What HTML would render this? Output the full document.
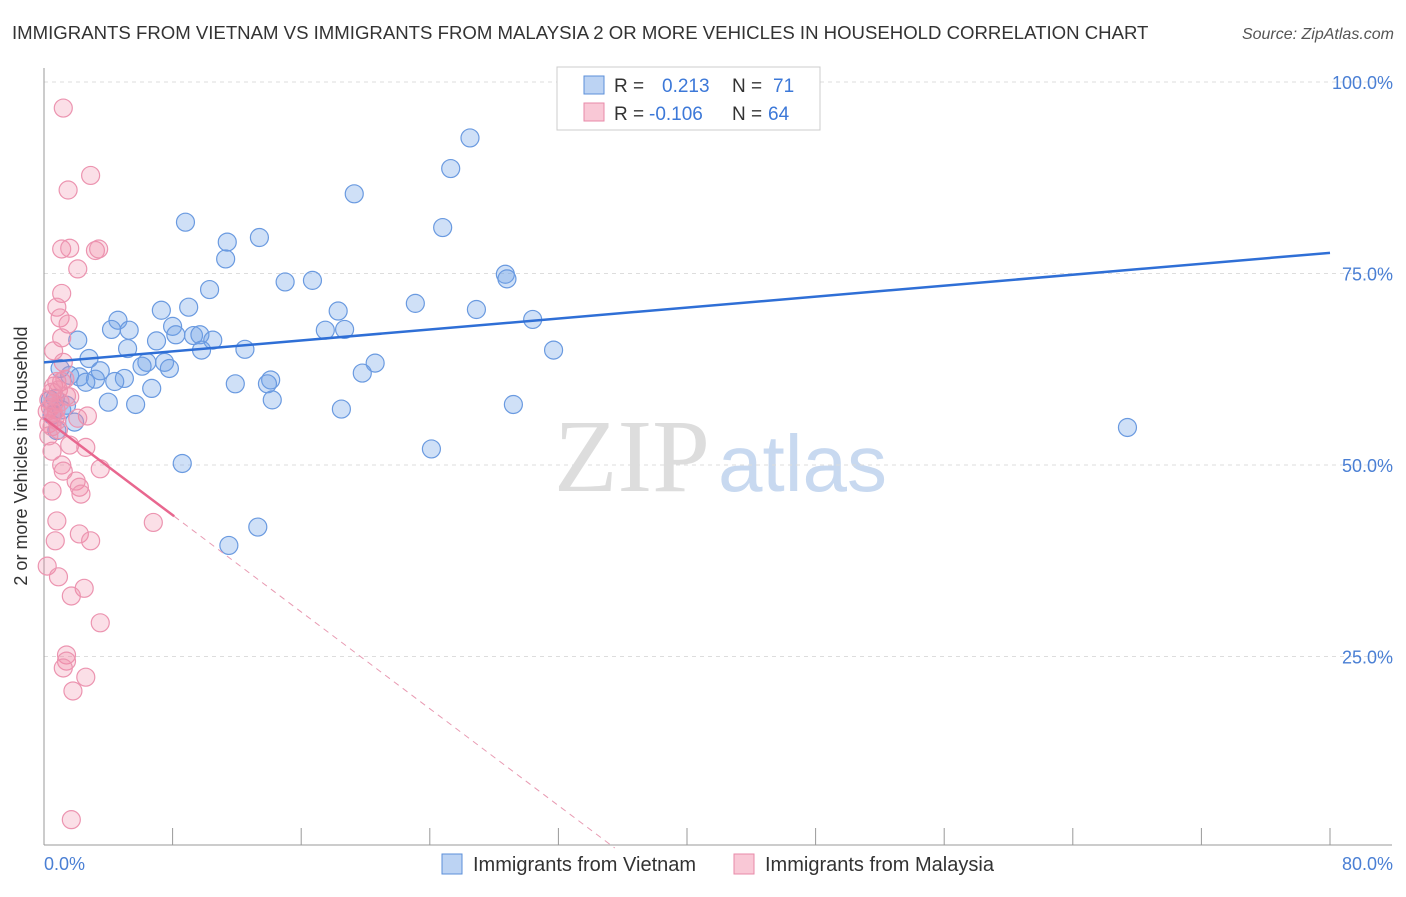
<!DOCTYPE html>
<html><head><meta charset="utf-8"><style>
body{margin:0;background:#fff;font-family:"Liberation Sans",sans-serif;}
svg text{font-family:"Liberation Sans",sans-serif;}
</style></head><body>
<svg width="1406" height="892" viewBox="0 0 1406 892" id="chart">
<text x="12" y="39" font-size="18.6" fill="#333">IMMIGRANTS FROM VIETNAM VS IMMIGRANTS FROM MALAYSIA 2 OR MORE VEHICLES IN HOUSEHOLD CORRELATION CHART</text>
<text x="1394" y="39" font-size="16" fill="#555" font-style="italic" text-anchor="end">Source: ZipAtlas.com</text>
<g>
<text x="554" y="491" font-size="104" fill="#ddd" font-family="Liberation Serif" style="font-family:'Liberation Serif',serif">ZIP</text>
<text x="718" y="491" font-size="80" fill="#c8d9f0">atlas</text>
</g>
<g id="grid"></g>
<line x1="44" y1="68" x2="44" y2="845" stroke="#999"/>
<line x1="44" y1="845" x2="1392" y2="845" stroke="#999"/>
<text x="27" y="456" font-size="18" fill="#333" text-anchor="middle" transform="rotate(-90 27 456)">2 or more Vehicles in Household</text>
<text x="44" y="870" font-size="18" fill="#4a7fd4">0.0%</text>
<text x="1393" y="870" font-size="18" fill="#4a7fd4" text-anchor="end">80.0%</text>
<g id="pts"></g>
<g>
<rect x="557" y="67" width="263" height="63" fill="#fff" stroke="#ccc"/>
<rect x="584" y="76" width="20" height="18" fill="#bcd3f3" stroke="#5b8fd9"/>
<rect x="584" y="103" width="20" height="18" fill="#f9c8d6" stroke="#e88aa8"/>
<text x="614" y="92" font-size="19" fill="#333">R = </text><text x="662" y="92" font-size="19" fill="#3c78d8">0.213</text>
<text x="732" y="92" font-size="19" fill="#333">N = </text><text x="773" y="92" font-size="19" fill="#3c78d8">71</text>
<text x="614" y="120" font-size="19" fill="#333">R = </text><text x="649" y="120" font-size="19" fill="#3c78d8">-0.106</text>
<text x="732" y="120" font-size="19" fill="#333">N = </text><text x="768" y="120" font-size="19" fill="#3c78d8">64</text>
</g>
<g>
<rect x="442" y="854" width="20" height="20" fill="#bcd3f3" stroke="#5b8fd9"/>
<text x="473" y="871" font-size="20" fill="#333">Immigrants from Vietnam</text>
<rect x="734" y="854" width="20" height="20" fill="#f9c8d6" stroke="#e88aa8"/>
<text x="765" y="871" font-size="20" fill="#333">Immigrants from Malaysia</text>
</g>
</svg>
<script>
const yTicks=[25,50,75,100];
const yTickLabels=["25.0%","50.0%","75.0%","100.0%"];
const xTicks=[8,16,24,32,40,48,56,64,72,80];
const blueX=[26.5,25.3,19.3,8.8,24.8,13.4,11.4,11.3,15.0,16.7,28.7,28.8,10.3,23.1,26.9,18.3,7.3,9.0,4.6,30.4,8.0,4.2,5.3,17.5,18.7,8.2,9.3,9.7,10.5,2.1,7.0,5.2,9.8,12.5,31.7,2.8,6.4,7.5,6.1,20.6,7.8,1.0,3.5,1.6,19.8,2.2,3.2,5.0,4.4,14.1,2.6,11.9,13.9,6.7,4.0,5.7,14.2,29.2,18.5,0.7,1.1,1.9,67.4,24.1,8.6,13.3,11.5,0.4,0.5,1.4,0.8];
const blueY=[92.7,88.7,85.4,81.7,81.0,79.7,79.1,76.9,73.9,74.1,74.9,74.3,72.9,71.1,70.3,70.1,70.2,70.6,68.9,69.0,68.1,67.7,67.6,67.6,67.7,67.0,66.9,67.0,66.3,66.3,66.2,65.2,65.0,65.1,65.0,63.9,63.4,63.4,62.9,63.3,62.6,62.6,62.3,61.7,62.0,61.5,61.2,61.3,60.9,61.1,60.8,60.6,60.6,60.0,58.2,57.9,58.5,57.9,57.3,58.7,57.2,55.6,54.9,52.1,50.2,41.9,39.5,58.5,56.5,57.8,54.5];
const pinkX=[1.2,2.9,1.5,1.1,1.6,3.2,3.4,2.1,1.1,0.8,1.0,1.5,1.1,0.6,1.2,0.8,0.6,1.1,0.5,1.6,0.3,0.6,0.75,0.7,0.3,0.9,2.7,2.1,1.6,2.6,0.5,1.1,1.2,3.5,2.0,2.2,2.3,0.5,0.8,6.8,2.2,2.9,0.7,0.2,0.9,2.5,1.7,3.5,1.4,1.4,1.2,2.6,1.8,1.7,0.4,0.9,1.3,0.5,0.2,1.0,0.6,1.4,0.3,0.8];
const pinkY=[96.6,87.8,85.9,78.2,78.3,78.0,78.2,75.6,72.4,70.6,69.2,68.4,66.6,64.9,63.4,60.9,60.3,60.9,59.5,58.9,58.5,58.0,57.2,56.2,55.4,54.6,56.4,56.1,52.6,52.3,51.8,50.0,49.2,49.5,47.9,47.1,46.2,46.6,42.7,42.5,41.0,40.1,40.1,36.8,35.4,33.9,32.9,29.4,25.2,24.4,23.5,22.3,20.5,3.7,57.5,59.8,61.2,55.0,57.0,58.2,56.8,59.0,53.8,55.8];
const blueTrend=[63.4,77.7];
const pinkTrend=[56.1,-1.58];
const X=v=>44+v/80*1286, Y=v=>848-v/100*766;
const NS="http://www.w3.org/2000/svg";
const grid=document.getElementById('grid'), pts=document.getElementById('pts');
function mk(tag,attrs,parent){const e=document.createElementNS(NS,tag);for(const k in attrs)e.setAttribute(k,attrs[k]);parent.appendChild(e);return e;}
yTicks.forEach((t,i)=>{
 const l=mk('line',{x1:44,x2:1392,y1:Y(t),y2:Y(t),stroke:'#ddd','stroke-dasharray':'4,4'},grid);
 
 
 const tx=mk('text',{x:1393,y:Y(t)+7,'font-size':18,fill:'#4a7fd4','text-anchor':'end'},grid);
 tx.textContent=yTickLabels[i];
 
 
});
xTicks.forEach(t=>{
 const l=mk('line',{x1:X(t),x2:X(t),y1:828,y2:845,stroke:'#999'},grid);
 
 
});
blueX.forEach((v,i)=>{
 const c=mk('circle',{cx:X(v),cy:Y(blueY[i]),r:9,fill:'rgba(110,160,230,0.33)',stroke:'#6a9ae0','stroke-width':1.2},pts);
 
 
});
pinkX.forEach((v,i)=>{
 const c=mk('circle',{cx:X(v),cy:Y(pinkY[i]),r:9,fill:'rgba(240,140,170,0.28)',stroke:'#ec94b0','stroke-width':1.2},pts);
 
 
});
const bl=mk('line',{x1:X(0),y1:Y(blueTrend[0]),x2:X(80),y2:Y(blueTrend[1]),stroke:'#2f6fd6','stroke-width':2.5},pts);


const pEnd=8.1, pZero=-pinkTrend[0]/pinkTrend[1];
const ps=mk('line',{x1:X(0),y1:Y(pinkTrend[0]),x2:X(pEnd),y2:Y(pinkTrend[0]+pinkTrend[1]*pEnd),stroke:'#e8678f','stroke-width':2.5},pts);


const pd=mk('line',{x1:X(pEnd),y1:Y(pinkTrend[0]+pinkTrend[1]*pEnd),x2:X(pZero),y2:Y(0),stroke:'#e89ab2','stroke-width':1,'stroke-dasharray':'6,5'},pts);


</script>
</body></html>
